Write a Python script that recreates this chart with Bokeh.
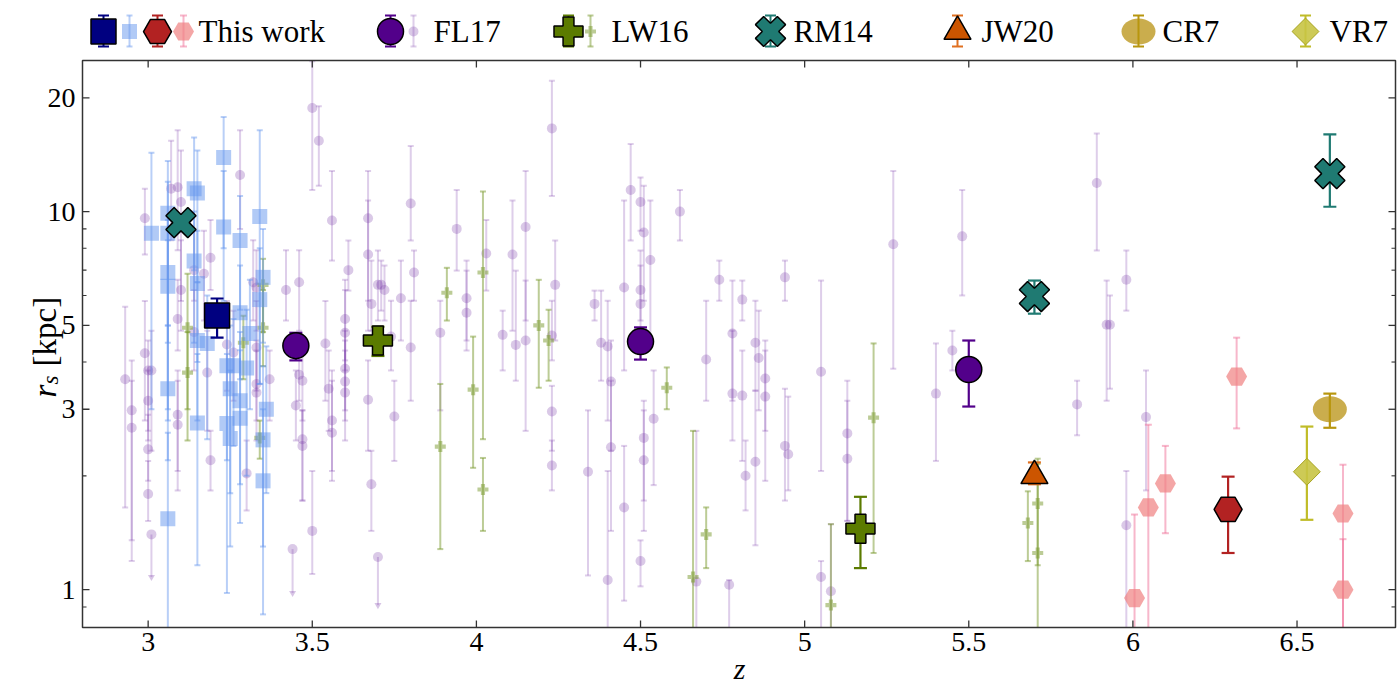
import numpy as np
from bokeh.plotting import figure
from bokeh.models import Range1d
from bokeh.embed import file_html
from bokeh.resources import INLINE
from bokeh.core.properties import value

SERIF = "'Liberation Serif', 'DejaVu Serif', serif"

# ---------------- data: redshift z, size r_s [kpc], error-bar ends ----------------
# FL17 individual galaxies
fl17_z = [2.93, 2.95, 2.95, 2.99, 2.99, 3.00, 3.01, 3.00, 3.00, 3.00,
          3.07, 3.09, 3.10, 3.10, 3.09, 3.09, 3.09, 3.14, 3.17, 3.19,
          3.18, 3.19, 3.14, 3.28, 3.24, 3.26, 3.30, 3.32, 3.33, 3.33,
          3.33, 3.33, 3.37, 3.42, 3.45, 3.46, 3.46, 3.47, 3.47, 3.47,
          3.50, 3.52, 3.54, 3.50, 3.56, 3.55, 3.56, 3.56, 3.60, 3.60,
          3.61, 3.60, 3.60, 3.60, 3.67, 3.67, 3.67, 3.68, 3.70, 3.68,
          3.71, 3.72, 3.74, 3.75, 3.77, 3.80, 3.81, 3.80, 3.89, 3.94,
          3.97, 3.97, 4.03, 4.08, 4.11, 4.12, 4.15, 4.15, 4.23, 4.24,
          4.23, 4.23, 4.23, 4.34, 4.36, 4.38, 4.40, 4.40, 4.41, 4.41,
          4.45, 4.45, 4.47, 4.50, 4.51, 4.53, 4.50, 4.50, 4.50, 4.51,
          4.51, 4.54, 4.62, 4.67, 4.70, 4.74, 4.78, 4.78, 4.81, 4.81,
          4.82, 4.77, 4.85, 4.86, 4.85, 4.88, 4.88, 4.94, 4.94, 4.95,
          5.05, 5.05, 5.08, 5.13, 5.13, 5.27, 5.40, 5.45, 5.48, 5.83,
          5.89, 5.92, 5.93, 5.98, 5.98, 6.04]
fl17_r = [3.6, 2.98, 2.68, 9.6, 4.22, 3.8, 3.8, 3.16, 2.35, 1.79,
          11.5, 11.6, 10.6, 6.2, 5.2, 2.9, 2.73, 7.0, 6.85, 7.55,
          3.75, 2.2, 4.8, 12.5, 4.45, 4.24, 2.03, 6.5, 6.3, 3.5,
          3.32, 4.37, 3.6, 6.2, 3.07, 6.5, 3.7, 3.57, 2.5, 2.4,
          18.8, 15.4, 4.48, 1.43, 9.47, 3.4, 2.8, 2.6, 5.2, 4.78,
          7.0, 3.84, 3.55, 3.32, 9.6, 7.7, 3.18, 5.7, 6.4, 1.9,
          6.4, 6.2, 4.67, 2.87, 5.9, 10.5, 6.9, 4.37, 4.78, 9.0,
          5.9, 5.4, 7.75, 4.72, 7.7, 4.44, 9.1, 4.56, 16.6, 6.4,
          4.7, 2.96, 2.13, 2.05, 5.7, 4.5, 4.4, 1.06, 3.55, 2.38,
          6.3, 1.65, 11.4, 10.6, 8.8, 7.45, 6.2, 5.7, 1.19, 2.52,
          2.2, 2.83, 10.0, 1.05, 4.06, 6.6, 4.76, 3.3, 5.85, 3.26,
          2.0, 1.03, 4.5, 4.1, 2.18, 3.62, 3.24, 6.7, 2.4, 2.28,
          3.77, 1.08, 0.99, 2.59, 2.22, 8.2, 3.3, 4.29, 8.6, 3.09,
          11.9, 5.02, 5.02, 6.6, 1.48, 2.86]
fl17_lo = [1.65, 1.35, 1.19, 7.7, 2.8, 2.63, 2.33, 2.48, 1.94, 1.52,
           8.4, 7.9, 5.8, 4.84, 4.29, 2.06, 1.83, 5.81, 5.15, 6.2,
           2.63, 1.83, 3.8, 9.0, 3.36, 3.16, 1.62, 5.15, 4.84, 2.80,
           2.48, 3.36, 2.80, 5.15, 2.48, 4.84, 3.16, 2.80, 1.72, 1.72,
           11.4, 11.7, 3.16, 1.10, 7.42, 2.63, 2.06, 1.94, 4.04, 3.8,
           6.18, 2.98, 2.80, 2.48, 5.81, 4.84, 2.33, 4.84, 5.15, 1.43,
           5.47, 5.15, 3.8, 2.19, 4.56, 8.38, 5.81, 3.16, 2.98, 6.98,
           4.56, 4.29, 6.18, 3.8, 4.84, 3.57, 5.15, 2.63, 11.0, 4.56,
           4.04, 2.33, 1.83, 1.09, 5.15, 3.57, 2.80, 0.6, 2.33, 1.43,
           3.8, 0.935, 8.38, 8.9, 5.81, 4.56, 5.15, 4.56, 1.02, 1.72,
           1.43, 1.89, 8.38, 0.6, 3.16, 5.81, 3.16, 2.48, 5.15, 2.19,
           1.62, 0.6, 3.36, 2.98, 1.31, 2.63, 1.94, 5.81, 1.72, 1.83,
           2.06, 0.6, 0.6, 1.52, 1.52, 3.84, 2.19, 3.8, 6.0, 2.56,
           7.89, 3.16, 3.4, 5.47, 0.6, 1.83]
fl17_hi = [5.6, 4.04, 3.57, 11.5, 5.8, 4.56, 4.84, 3.8, 2.9, 2.19,
           15.4, 16.4, 14.5, 8.4, 6.6, 3.8, 3.57, 8.9, 8.9, 9.5,
           4.84, 2.63, 6.2, 16.4, 5.8, 5.47, 2.48, 8.4, 7.9, 4.56,
           4.29, 5.8, 4.29, 7.9, 3.8, 7.9, 4.56, 4.56, 2.98, 2.98,
           25.0, 19.0, 5.8, 2.06, 12.8, 4.29, 3.8, 3.57, 6.6, 6.2,
           8.38, 4.84, 4.56, 4.29, 12.8, 10.7, 4.04, 7.42, 7.89, 2.33,
           7.42, 7.2, 5.81, 3.57, 7.42, 14.9, 7.89, 5.81, 5.81, 11.4,
           7.42, 6.98, 9.5, 5.47, 10.7, 6.98, 12.8, 6.57, 22.2, 8.38,
           5.81, 3.46, 2.48, 2.98, 6.18, 6.18, 5.81, 2.06, 4.56, 3.57,
           10.7, 2.40, 15.1, 12.3, 11.7, 10.7, 7.89, 7.2, 1.35, 3.16,
           2.98, 3.8, 11.4, 2.63, 5.81, 7.42, 6.57, 4.84, 6.57, 4.29,
           2.48, 1.06, 5.81, 5.47, 3.36, 4.56, 4.29, 7.42, 3.4, 3.24,
           6.57, 1.19, 1.49, 3.57, 3.16, 12.8, 4.48, 4.84, 11.4, 3.57,
           16.1, 6.57, 6.0, 7.89, 2.06, 3.8]
# FL17 upper limits (value and end of the arrow)
fl17_ul_z = [3.01, 3.44, 3.70]
fl17_ul_r = [1.40, 1.28, 1.22]
fl17_ul_end = [1.08, 0.98, 0.91]

# LW16 individual galaxies
lw16_z = [3.12, 3.12, 3.29, 3.35, 3.35, 3.34, 3.91, 4.02, 4.19, 4.22, 3.89,
          3.99, 4.02, 4.58, 4.70, 4.66, 5.08, 5.21, 5.68, 5.71, 5.71]
lw16_r = [4.93, 3.75, 4.5, 6.4, 4.93, 2.52, 6.1, 6.9, 5.0, 4.56, 2.39,
          3.38, 1.84, 3.42, 1.4, 1.08, 0.91, 2.85, 1.5, 1.69, 1.25]
lw16_lo = [3.0, 2.48, 3.6, 4.8, 3.9, 2.22, 5.15, 2.5, 3.42, 3.57, 1.28,
           2.1, 1.43, 3.0, 1.14, 0.6, 0.6, 1.25, 1.19, 1.16, 0.6]
lw16_hi = [6.85, 4.8, 5.3, 7.5, 6.2, 2.8, 7.1, 11.3, 6.6, 5.5, 3.5,
           4.67, 2.23, 3.87, 1.65, 2.63, 1.49, 4.48, 1.82, 2.22, 2.15]

# This work, individual objects at z ~ 3
tw_ind_z = [3.23, 3.14, 3.15, 3.01, 3.06, 3.06, 3.23, 3.28, 3.34, 3.14, 3.06,
            3.06, 3.15, 3.35, 3.34, 3.28, 3.31, 3.15, 3.18, 3.24, 3.26, 3.30,
            3.06, 3.25, 3.28, 3.36, 3.15, 3.24, 3.28, 3.25, 3.35, 3.35, 3.06]
tw_ind_r = [13.9, 11.5, 11.2, 8.76, 9.9, 8.76, 9.1, 8.38, 9.7, 7.4, 6.9,
            6.35, 6.45, 6.7, 5.85, 5.4, 4.76, 4.56, 4.48, 3.91, 3.91, 3.86,
            3.4, 3.4, 3.16, 3.0, 2.76, 2.75, 2.84, 2.51, 2.49, 1.94, 1.54]
tw_ind_lo = [8.0, 7.0, 6.5, 3.0, 5.0, 4.5, 5.8, 5.5, 3.5, 4.5, 3.0,
             2.8, 4.0, 4.5, 3.5, 3.6, 3.0, 2.8, 2.5, 2.2, 2.4, 2.0,
             2.2, 1.8, 1.9, 1.8, 1.16, 0.98, 1.5, 1.3, 1.3, 0.86, 0.6]
tw_ind_hi = [17.8, 15.7, 14.5, 14.3, 13.6, 12.0, 12.8, 11.0, 16.4, 10.0, 9.5,
             8.4, 8.9, 9.0, 8.0, 7.2, 6.6, 6.5, 6.0, 5.5, 5.2, 5.5,
             5.0, 5.0, 4.8, 4.4, 4.2, 4.2, 4.3, 3.8, 3.9, 3.0, 2.6]

# This work, individual objects at z > 6
tw_hz_z = [6.005, 6.047, 6.099, 6.316, 6.64, 6.64]
tw_hz_r = [0.95, 1.65, 1.91, 3.66, 1.59, 1.0]
tw_hz_lo = [0.6, 0.6, 1.41, 2.67, 0.6, 0.6]
tw_hz_hi = [1.58, 2.73, 2.4, 4.64, 2.14, 1.36]

# This work, stacks
tw_low_z, tw_low_r, tw_low_lo, tw_low_hi = [3.21], [5.31], [4.64], [5.89]
tw_high_z, tw_high_r, tw_high_lo, tw_high_hi = [6.29], [1.63], [1.25], [1.99]

# FL17 and LW16 stacks
fl17s_z = [3.45, 4.50, 5.50]
fl17s_r = [4.42, 4.53, 3.82]
fl17s_lo = [4.04, 4.06, 3.05]
fl17s_hi = [4.78, 4.94, 4.56]
lw16s_z = [3.70, 5.17]
lw16s_r = [4.56, 1.45]
lw16s_lo = [4.15, 1.14]
lw16s_hi = [4.96, 1.76]

# RM14, JW20, CR7, VR7
rm14_z = [3.10, 5.70, 6.60]
rm14_r = [9.35, 5.96, 12.6]
rm14_lo = [9.0, 5.37, 10.3]
rm14_hi = [9.7, 6.57, 16.0]
jw20_z, jw20_r, jw20_lo, jw20_hi = [5.70], [2.0], [1.9], [2.17]
cr7_z, cr7_r, cr7_lo, cr7_hi = [6.60], [3.0], [2.68], [3.3]
vr7_z, vr7_r, vr7_lo, vr7_hi = [6.53], [2.05], [1.53], [2.7]

# axes
Z_LO, Z_HI = 2.8, 6.8
R_LO, R_HI = 0.794, 25.1
x_ticks = [3, 3.5, 4, 4.5, 5, 5.5, 6, 6.5]
x_tick_labels = ["3", "3.5", "4", "4.5", "5", "5.5", "6", "6.5"]
y_ticks = [1, 3, 5, 10, 20]
y_tick_labels = ["1", "3", "5", "10", "20"]
y_minor = [0.9, 2, 4, 6, 7, 8, 9]
legend_names = ["This work", "FL17", "LW16", "RM14", "JW20", "CR7", "VR7"]

# ---------------- colours ----------------
PURPLE = "#7A3CAA"
BLUE = "#6495ED"
PINK = "#F08080"
PINK_BAR = "#F07098"
OLIVE_L = "#7A9A2E"
NAVY = "#000080"
RED = "#B22222"
INDIGO = "#52008A"
OLIVE = "#5B7B00"
TEAL = "#1F7A72"
ORANGE = "#CC5500"
JW_BAR = "#E07020"
CR7_C = "#C4A43A"
CR7_BAR = "#B8960E"
VR7_C = "#C8C444"
VR7_BAR = "#C0BC28"
AX = "#333333"

# ---------------- page geometry ----------------
# The canvas is one plotting area; the axes box sits inside it with room
# for the legend row above and the tick labels around it.
W, H = 1400, 687
BOX_L, BOX_R, BOX_T, BOX_B = 82, 1395, 60, 627
PX_Z = (BOX_R - BOX_L) / (Z_HI - Z_LO)
PX_DEC = (BOX_B - BOX_T) / np.log10(R_HI / R_LO)
XS = Z_LO - BOX_L / PX_Z
XE = Z_HI + (W - BOX_R) / PX_Z
YE = R_HI * 10 ** (BOX_T / PX_DEC)
YS = R_LO / 10 ** ((H - BOX_B) / PX_DEC)


def at_x(px):
    """page column (px from the left) -> z"""
    return XS + px / PX_Z


def at_y(py):
    """page row (px from the top) -> r_s"""
    return YE / 10 ** (py / PX_DEC)


p = figure(width=W, height=H, x_range=Range1d(XS, XE), y_range=Range1d(YS, YE),
           y_axis_type="log", x_axis_location=None, y_axis_location=None,
           min_border=0, output_backend="svg", toolbar_location=None)
p.xgrid.visible = False
p.ygrid.visible = False
p.outline_line_color = None
p.background_fill_color = "white"
p.border_fill_color = "white"


def errorbars(z, lo, hi, color, alpha=1.0, width=1.5, cap=6):
    p.segment(x0=z, y0=lo, x1=z, y1=hi, line_color=color, line_alpha=alpha,
              line_width=width)
    p.scatter(x=list(z) + list(z), y=list(lo) + list(hi), marker="dash", size=cap,
              line_color=color, line_alpha=alpha, line_width=width)


# FL17 individual
errorbars(fl17_z, fl17_lo, fl17_hi, PURPLE, alpha=0.25, width=2, cap=6)
p.scatter(fl17_z, fl17_r, marker="circle", size=10, fill_color=PURPLE,
          fill_alpha=0.28, line_color=None)
p.segment(x0=fl17_ul_z, y0=fl17_ul_r, x1=fl17_ul_z, y1=fl17_ul_end,
          line_color=PURPLE, line_alpha=0.25, line_width=2)
p.scatter(fl17_ul_z, fl17_ul_end, marker="inverted_triangle", size=7,
          fill_color=PURPLE, fill_alpha=0.3, line_color=None)
p.scatter(fl17_ul_z, fl17_ul_r, marker="circle", size=10, fill_color=PURPLE,
          fill_alpha=0.28, line_color=None)

# LW16 individual
errorbars(lw16_z, lw16_lo, lw16_hi, OLIVE_L, alpha=0.5, width=2, cap=6)
p.scatter(lw16_z, lw16_r, marker="plus", size=11, fill_color=OLIVE_L,
          fill_alpha=0.5, line_color=None)

# This work individual
errorbars(tw_ind_z, tw_ind_lo, tw_ind_hi, BLUE, alpha=0.45, width=2, cap=6)
p.scatter(tw_ind_z, tw_ind_r, marker="square", size=15, fill_color=BLUE,
          fill_alpha=0.5, line_color=None)
errorbars(tw_hz_z, tw_hz_lo, tw_hz_hi, PINK_BAR, alpha=0.5, width=2, cap=7)
p.scatter(tw_hz_z, tw_hz_r, marker="hex", size=21, fill_color=PINK,
          fill_alpha=0.7, line_color=None)

# stacked / literature points
errorbars(tw_low_z, tw_low_lo, tw_low_hi, NAVY, width=2.2, cap=13)
p.scatter(tw_low_z, tw_low_r, marker="square", size=25, fill_color=NAVY,
          line_color="black", line_width=1.5)
errorbars(tw_high_z, tw_high_lo, tw_high_hi, RED, width=2.2, cap=13)
p.scatter(tw_high_z, tw_high_r, marker="hex", size=28, fill_color=RED,
          line_color="black", line_width=1.5)
errorbars(fl17s_z, fl17s_lo, fl17s_hi, INDIGO, width=2.2, cap=13)
p.scatter(fl17s_z, fl17s_r, marker="circle", size=26, fill_color=INDIGO,
          line_color="black", line_width=1.5)
errorbars(lw16s_z, lw16s_lo, lw16s_hi, OLIVE, width=2.2, cap=13)
p.scatter(lw16s_z, lw16s_r, marker="plus", size=29, fill_color=OLIVE,
          line_color="black", line_width=1.5)
errorbars(rm14_z, rm14_lo, rm14_hi, TEAL, width=2.2, cap=13)
p.scatter(rm14_z, rm14_r, marker="plus", angle=np.pi / 4, size=31,
          fill_color=TEAL, line_color="black", line_width=1.5)
errorbars(jw20_z, jw20_lo, jw20_hi, JW_BAR, width=2.2, cap=13)
p.scatter(jw20_z, jw20_r, marker="triangle", size=27, fill_color=ORANGE,
          line_color="black", line_width=1.5)
p.ellipse(x=cr7_z, y=cr7_r, width=34, height=26, width_units="screen",
          height_units="screen", fill_color=CR7_C, fill_alpha=0.9, line_color=None)
errorbars(cr7_z, cr7_lo, cr7_hi, CR7_BAR, width=2.2, cap=13)
errorbars(vr7_z, vr7_lo, vr7_hi, VR7_BAR, width=2.2, cap=13)
p.scatter(vr7_z, vr7_r, marker="square", angle=np.pi / 4, size=19,
          fill_color=VR7_C, fill_alpha=0.9, line_color="#A8A420", line_width=1)

# ---------------- margins and axes box ----------------
p.quad(left=[XS, Z_HI, Z_LO, Z_LO], right=[Z_LO, XE, Z_HI, Z_HI],
       bottom=[YS, YS, R_HI, YS], top=[YE, YE, YE, R_LO],
       fill_color="white", line_color=None)
p.quad(left=[Z_LO], right=[Z_HI], bottom=[R_LO], top=[R_HI], fill_color=None,
       line_color=AX, line_width=1.5)

# inward ticks on all four sides
TICK, MINOR = 7, 4
nx, ny, nm = len(x_ticks), len(y_ticks), len(y_minor)
fx = 10 ** (TICK / PX_DEC)
p.segment(x0=x_ticks, y0=[R_LO] * nx, x1=x_ticks, y1=[R_LO * fx] * nx,
          line_color=AX, line_width=1.3)
p.segment(x0=x_ticks, y0=[R_HI] * nx, x1=x_ticks, y1=[R_HI / fx] * nx,
          line_color=AX, line_width=1.3)
p.segment(x0=[Z_LO] * ny, y0=y_ticks, x1=[Z_LO + TICK / PX_Z] * ny, y1=y_ticks,
          line_color=AX, line_width=1.3)
p.segment(x0=[Z_HI] * ny, y0=y_ticks, x1=[Z_HI - TICK / PX_Z] * ny, y1=y_ticks,
          line_color=AX, line_width=1.3)
p.segment(x0=[Z_LO] * nm, y0=y_minor, x1=[Z_LO + MINOR / PX_Z] * nm, y1=y_minor,
          line_color=AX, line_width=1.1)
p.segment(x0=[Z_HI] * nm, y0=y_minor, x1=[Z_HI - MINOR / PX_Z] * nm, y1=y_minor,
          line_color=AX, line_width=1.1)

# tick labels and axis titles
p.text(x=x_ticks, y=[at_y(641)] * nx, text=x_tick_labels, text_font=value(SERIF),
       text_font_size="28px", text_align="center", text_baseline="middle",
       text_color="black")
p.text(x=[at_x(75)] * ny, y=y_ticks, text=y_tick_labels, text_font=value(SERIF),
       text_font_size="28px", text_align="right", text_baseline="middle",
       text_color="black")
p.text(x=[at_x(739)], y=[at_y(668)], text=["z"], text_font=value(SERIF),
       text_font_size="30px", text_font_style="italic", text_align="center",
       text_baseline="middle", text_color="black")
# r_s [kpc], written upwards, subscript set a little lower
for txt, px, py, size, style in [("r", 44, 397, "33px", "italic"),
                                  ("s", 50, 384, "23px", "italic"),
                                  ("[kpc]", 44, 366, "33px", "normal")]:
    p.text(x=[at_x(px)], y=[at_y(py)], text=[txt], angle=np.pi / 2,
           text_font=value(SERIF), text_font_size=size, text_font_style=style,
           text_align="left", text_baseline="alphabetic", text_color="black")

# ---------------- legend row ----------------
LY, LTOP, LBOT = at_y(31), at_y(15), at_y(46)


def leg_entry(px, color, alpha=1.0, width=2.0, cap=11):
    errorbars([at_x(px)], [LBOT], [LTOP], color, alpha=alpha, width=width, cap=cap)


leg_entry(103, NAVY)
p.scatter([at_x(103)], [LY], marker="square", size=25, fill_color=NAVY,
          line_color="black", line_width=1.5)
leg_entry(129, BLUE, alpha=0.45, cap=6)
p.scatter([at_x(129)], [LY], marker="square", size=15, fill_color=BLUE,
          fill_alpha=0.5, line_color=None)
leg_entry(157, RED)
p.scatter([at_x(157)], [LY], marker="hex", size=28, fill_color=RED,
          line_color="black", line_width=1.5)
leg_entry(183, PINK_BAR, alpha=0.5, cap=7)
p.scatter([at_x(183)], [LY], marker="hex", size=21, fill_color=PINK,
          fill_alpha=0.7, line_color=None)

leg_entry(390, INDIGO)
p.scatter([at_x(390)], [LY], marker="circle", size=26, fill_color=INDIGO,
          line_color="black", line_width=1.5)
leg_entry(413, PURPLE, alpha=0.25, cap=6)
p.scatter([at_x(413)], [LY], marker="circle", size=10, fill_color=PURPLE,
          fill_alpha=0.28, line_color=None)

leg_entry(568, OLIVE)
p.scatter([at_x(568)], [LY], marker="plus", size=29, fill_color=OLIVE,
          line_color="black", line_width=1.5)
leg_entry(590, OLIVE_L, alpha=0.5, cap=6)
p.scatter([at_x(590)], [LY], marker="plus", size=11, fill_color=OLIVE_L,
          fill_alpha=0.5, line_color=None)

leg_entry(770, TEAL)
p.scatter([at_x(770)], [LY], marker="plus", angle=np.pi / 4, size=31,
          fill_color=TEAL, line_color="black", line_width=1.5)
leg_entry(957, JW_BAR)
p.scatter([at_x(957)], [LY], marker="triangle", size=27, fill_color=ORANGE,
          line_color="black", line_width=1.5)
p.ellipse(x=[at_x(1138)], y=[LY], width=34, height=26, width_units="screen",
          height_units="screen", fill_color=CR7_C, fill_alpha=0.9, line_color=None)
leg_entry(1138, CR7_BAR)
leg_entry(1305, VR7_BAR)
p.scatter([at_x(1305)], [LY], marker="square", angle=np.pi / 4, size=19,
          fill_color=VR7_C, fill_alpha=0.9, line_color="#A8A420", line_width=1)

legend_px = [198, 433, 611, 793, 981, 1162, 1329]
p.text(x=[at_x(v) for v in legend_px], y=[LY] * len(legend_px), text=legend_names,
       text_font=value(SERIF), text_font_size="31px", text_baseline="middle",
       text_align="left", text_color="black")

open("out.html", "w").write(file_html(p, INLINE))
